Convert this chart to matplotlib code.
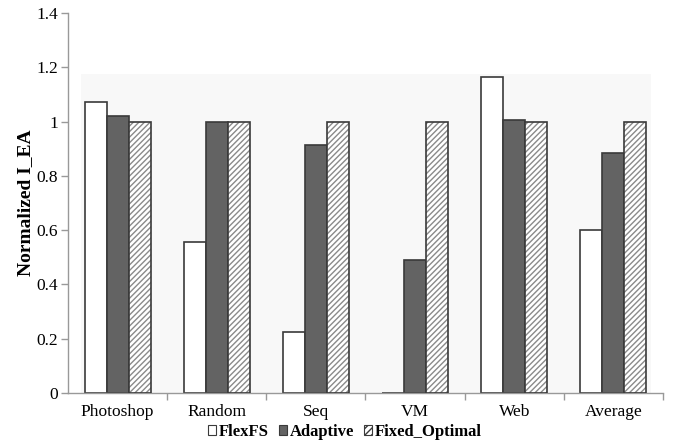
import matplotlib
matplotlib.use("Agg")
import matplotlib.pyplot as plt
import numpy as np
from matplotlib.patches import Rectangle, Patch

categories = ["Photoshop", "Random", "Seq", "VM", "Web", "Average"]
flexfs = [1.073, 0.557, 0.225, 0.0, 1.164, 0.600]
adaptive = [1.020, 1.000, 0.914, 0.491, 1.005, 0.886]
fixed_optimal = [1.0, 1.0, 1.0, 1.0, 1.0, 1.0]
series_names = ["FlexFS", "Adaptive", "Fixed_Optimal"]
y_ticks = [0, 0.2, 0.4, 0.6, 0.8, 1, 1.2, 1.4]
y_tick_labels = ["0", "0.2", "0.4", "0.6", "0.8", "1", "1.2", "1.4"]

plt.rcParams["font.family"] = ["Liberation Serif", "DejaVu Serif"]

fig = plt.figure(figsize=(6.83, 4.46), dpi=100)
ax = fig.add_axes([68 / 683, 1 - 393 / 446, 595 / 683, 380 / 446])

# faint plot-area background
ax.add_patch(Rectangle((13 / 595, 0), 570 / 595, 319 / 380,
                       transform=ax.transAxes, facecolor="#f8f8f8",
                       edgecolor="none", zorder=0))

x = np.arange(len(categories))
w = 0.222
edge = "#3a3a3a"
lw = 1.2

ax.bar(x - w, flexfs, w, color="white", edgecolor=edge, linewidth=lw, zorder=2)
ax.bar(x, adaptive, w, color="#636363", edgecolor=edge, linewidth=lw, zorder=2)
ax.bar(x + w, fixed_optimal, w, color="white", edgecolor="#8a8a8a",
       linewidth=0, hatch="//////", zorder=2)
ax.bar(x + w, fixed_optimal, w, color="none", edgecolor=edge, linewidth=lw,
       zorder=3)

ax.set_xlim(-0.5, len(categories) - 0.5)
ax.set_ylim(0, 1.4)
ax.set_yticks(y_ticks)
ax.set_yticklabels(y_tick_labels, fontsize=12.5)
ax.set_xticks(x)
ax.set_xticklabels(categories, fontsize=12.5)
ax.tick_params(axis="x", length=0, pad=8)
ax.set_xticks(np.arange(len(categories)) + 0.5, minor=True)
ax.tick_params(axis="x", which="minor", length=5, direction="out",
               color="#999999", width=1)
ax.tick_params(axis="y", length=5, direction="out", color="#999999",
               width=1, pad=2)

for s in ["top", "right"]:
    ax.spines[s].set_visible(False)
for s in ["left", "bottom"]:
    ax.spines[s].set_color("#999999")
    ax.spines[s].set_linewidth(1)

ax.set_ylabel("Normalized I_EA", fontsize=14, fontweight="bold", labelpad=2)

handles = [
    Patch(facecolor="white", edgecolor=edge, linewidth=0.8),
    Patch(facecolor="#636363", edgecolor=edge, linewidth=0.8),
    Patch(facecolor="white", edgecolor=edge, linewidth=0.8, hatch="/////"),
]
fig.legend(handles, series_names, loc="center", bbox_to_anchor=(345 / 683, 1 - 432 / 446),
           ncol=3, frameon=False, prop={"weight": "bold", "size": 12},
           handlelength=0.5, handleheight=0.5, handletextpad=0.15,
           columnspacing=0.6)

fig.savefig("out.png", dpi=100)
